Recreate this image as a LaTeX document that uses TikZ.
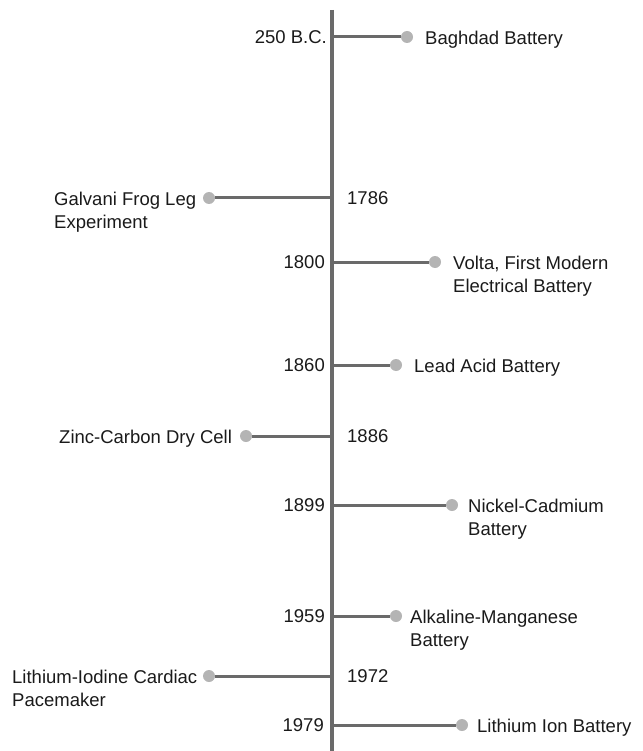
\documentclass[tikz,border=0pt]{standalone}
\usepackage{fontspec}
\setmainfont{Liberation Sans}
\definecolor{axisgray}{HTML}{6A6A6A}
\definecolor{dotgray}{HTML}{B4B4B4}
\definecolor{textgray}{HTML}{1A1A1A}

\begin{document}
\begin{tikzpicture}[x=1pt,y=-1pt,
  font=\fontsize{18.5}{23}\selectfont,
  axis/.style={draw=axisgray,line width=3.4pt},
  branch/.style={draw=axisgray,line width=3pt},
  dot/.style={circle,fill=dotgray,inner sep=0pt,minimum size=12pt},
  year/.style={inner sep=0pt,text=textgray},
  event/.style={inner sep=0pt,text=textgray,align=left}]

\useasboundingbox (0,0) rectangle (642,751);

% Main time axis
\coordinate (top) at (332,10);
\coordinate (bottom) at (332,751);
\draw[axis] (top) -- (bottom);

% 250 B.C. (right)
\coordinate (y250) at (332,37);
\node[dot] (d250) at (407,37) {};
\draw[branch] (y250) -- (d250);
\node[year,anchor=east] (t250) at (327,37) {250 B.C.};
\node[event,anchor=north west] (e250) at (425,30.5) {Baghdad Battery};

% 1786 (left)
\coordinate (y1786) at (332,198);
\node[dot] (d1786) at (209,198) {};
\draw[branch] (y1786) -- (d1786);
\node[year,anchor=west] (t1786) at (347,198) {1786};
\node[event,anchor=north west] (e1786) at (54,191.5) {Galvani Frog Leg\\Experiment};

% 1800 (right)
\coordinate (y1800) at (332,262);
\node[dot] (d1800) at (435,262) {};
\draw[branch] (y1800) -- (d1800);
\node[year,anchor=east] (t1800) at (325,262) {1800};
\node[event,anchor=north west] (e1800) at (453,255.5) {Volta, First Modern\\Electrical Battery};

% 1860 (right)
\coordinate (y1860) at (332,365);
\node[dot] (d1860) at (396,365) {};
\draw[branch] (y1860) -- (d1860);
\node[year,anchor=east] (t1860) at (325,365) {1860};
\node[event,anchor=north west] (e1860) at (414,358.5) {Lead Acid Battery};

% 1886 (left)
\coordinate (y1886) at (332,436);
\node[dot] (d1886) at (246,436) {};
\draw[branch] (y1886) -- (d1886);
\node[year,anchor=west] (t1886) at (347,436) {1886};
\node[event,anchor=north west] (e1886) at (59,429.5) {Zinc-Carbon Dry Cell};

% 1899 (right)
\coordinate (y1899) at (332,505);
\node[dot] (d1899) at (452,505) {};
\draw[branch] (y1899) -- (d1899);
\node[year,anchor=east] (t1899) at (325,505) {1899};
\node[event,anchor=north west] (e1899) at (468,498.5) {Nickel-Cadmium\\Battery};

% 1959 (right)
\coordinate (y1959) at (332,616);
\node[dot] (d1959) at (396,616) {};
\draw[branch] (y1959) -- (d1959);
\node[year,anchor=east] (t1959) at (325,616) {1959};
\node[event,anchor=north west] (e1959) at (410,609.5) {Alkaline-Manganese\\Battery};

% 1972 (left)
\coordinate (y1972) at (332,676);
\node[dot] (d1972) at (209,676) {};
\draw[branch] (y1972) -- (d1972);
\node[year,anchor=west] (t1972) at (347,676) {1972};
\node[event,anchor=north west] (e1972) at (12,669.5) {Lithium-Iodine Cardiac\\Pacemaker};

% 1979 (right)
\coordinate (y1979) at (332,725);
\node[dot] (d1979) at (462,725) {};
\draw[branch] (y1979) -- (d1979);
\node[year,anchor=east] (t1979) at (324,725) {1979};
\node[event,anchor=north west] (e1979) at (477,718.5) {Lithium Ion Battery};

\end{tikzpicture}
\end{document}
